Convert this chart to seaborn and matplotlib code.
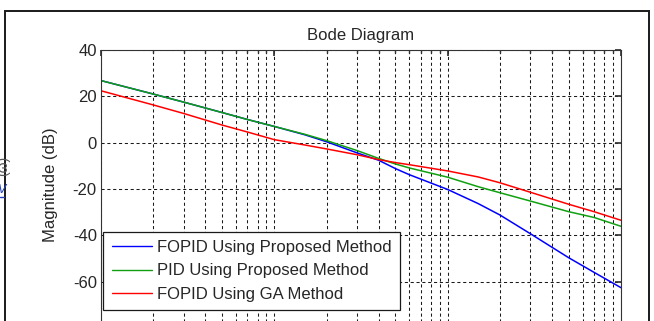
import matplotlib
matplotlib.use("Agg")
import matplotlib.pyplot as plt
from matplotlib.patches import Rectangle
from matplotlib.lines import Line2D
import numpy as np
import pandas as pd
import seaborn as sns

# Frequency samples (rad/s) and magnitude responses (dB)
freq = [0.1, 0.2, 0.3, 0.5, 0.7, 1, 1.5, 2, 3, 4, 5, 6, 10, 15, 20, 30, 50, 70, 100]
fopid_proposed = [26.8, 21.0, 17.5, 13.0, 10.0, 7.0, 3.4, 0.4, -4.4, -7.6, -11.2, -13.8,
                  -20.2, -26.3, -31.2, -39.3, -49.7, -56.0, -62.6]
pid_proposed = [26.8, 21.0, 17.5, 13.0, 10.0, 7.0, 3.6, 0.9, -3.4, -6.8, -9.2, -10.9,
                -14.9, -19.0, -21.6, -25.2, -29.8, -32.3, -36.1]
fopid_ga = [22.4, 16.3, 12.6, 7.6, 4.6, 1.3, -1.0, -2.7, -5.2, -7.3, -8.6, -9.5,
            -12.2, -14.8, -17.3, -21.4, -26.6, -29.8, -33.5]

series_names = ["FOPID Using Proposed Method", "PID Using Proposed Method", "FOPID Using GA Method"]
series_colors = ["#0000ff", "#10a010", "#ff0000"]
y_ticks = [-80, -60, -40, -20, 0, 20, 40]

df = pd.concat([
    pd.DataFrame({"freq": freq, "mag": vals, "series": name})
    for name, vals in zip(series_names, [fopid_proposed, pid_proposed, fopid_ga])
], ignore_index=True)

sns.set_theme(style="white")
plt.rcParams["font.family"] = ["Liberation Sans", "DejaVu Sans"]
txt = "#262626"

W, H = 654, 321
fig = plt.figure(figsize=(W / 100, H / 100), dpi=100)
fig.patch.set_facecolor("white")

# outer figure frame
fig.patches.append(Rectangle((5 / W, -0.2), 644 / W, 1.2 - 11 / H,
                             transform=fig.transFigure, fill=False,
                             edgecolor="#1a1a1a", lw=1.4, zorder=0))

ax = fig.add_axes([101 / W, 1 - 328 / H, 520 / W, 278 / H])
sns.lineplot(data=df, x="freq", y="mag", hue="series", hue_order=series_names,
             palette=series_colors, estimator=None, sort=False, lw=1.1,
             legend=True, ax=ax)
ax.set_xscale("log")
ax.set_xlim(0.1, 100)
ax.set_ylim(-80, 40)
ax.set_yticks(y_ticks)
ax.set_yticklabels([str(v) for v in y_ticks])
ax.xaxis.set_minor_locator(matplotlib.ticker.LogLocator(base=10, subs=np.arange(2, 10)))
ax.xaxis.set_minor_formatter(matplotlib.ticker.NullFormatter())
ax.xaxis.set_major_formatter(matplotlib.ticker.NullFormatter())
ax.set_xlabel("")
ax.set_ylabel("Magnitude (dB)", fontsize=12, color=txt)
ax.yaxis.set_label_coords(-0.083, 0.514)
ax.set_title("Bode Diagram", fontsize=12, color=txt, pad=7)

ax.tick_params(axis="both", which="both", direction="in", top=True, right=True,
               labelsize=12, labelcolor=txt, color="#333333", pad=3)
ax.tick_params(which="major", length=4)
ax.tick_params(which="minor", length=2.5)

grid_kw = dict(color="#1a1a1a", lw=0.75, linestyle=(0, (3, 2.6)))
ax.grid(True, which="major", axis="both", **grid_kw)
ax.grid(True, which="minor", axis="x", **grid_kw)
ax.set_axisbelow(True)
for s in ax.spines.values():
    s.set_color("#333333")
    s.set_linewidth(0.8)

handles, labels = ax.get_legend_handles_labels()
leg = ax.legend(handles, labels, loc="upper left",
                bbox_to_anchor=(103.3 / W, 1 - 231.7 / H),
                bbox_transform=fig.transFigure, borderaxespad=0,
                fontsize=12, frameon=True, fancybox=False, framealpha=1,
                handlelength=2.4, handletextpad=0.3, borderpad=0.5,
                labelspacing=0.5)
leg.get_frame().set_edgecolor("#1a1a1a")
leg.get_frame().set_linewidth(0.9)
for t in leg.get_texts():
    t.set_color(txt)
for h in leg.legend_handles:
    h.set_linewidth(1.0)

# fragments of neighbouring page text at the far left edge
fig.text(-4 / W, 1 - 166 / H, "(ω)", rotation=90, fontsize=10, color="#555555",
         ha="left", va="center")
fig.text(-2 / W, 1 - 190 / H, "V", fontsize=9, color="#2040c0", style="italic",
         ha="left", va="center")
fig.lines.append(Line2D([0, 4 / W], [1 - 197 / H, 1 - 197 / H], transform=fig.transFigure,
                        color="#2040c0", lw=1.0))

fig.savefig("out.png", dpi=100)
